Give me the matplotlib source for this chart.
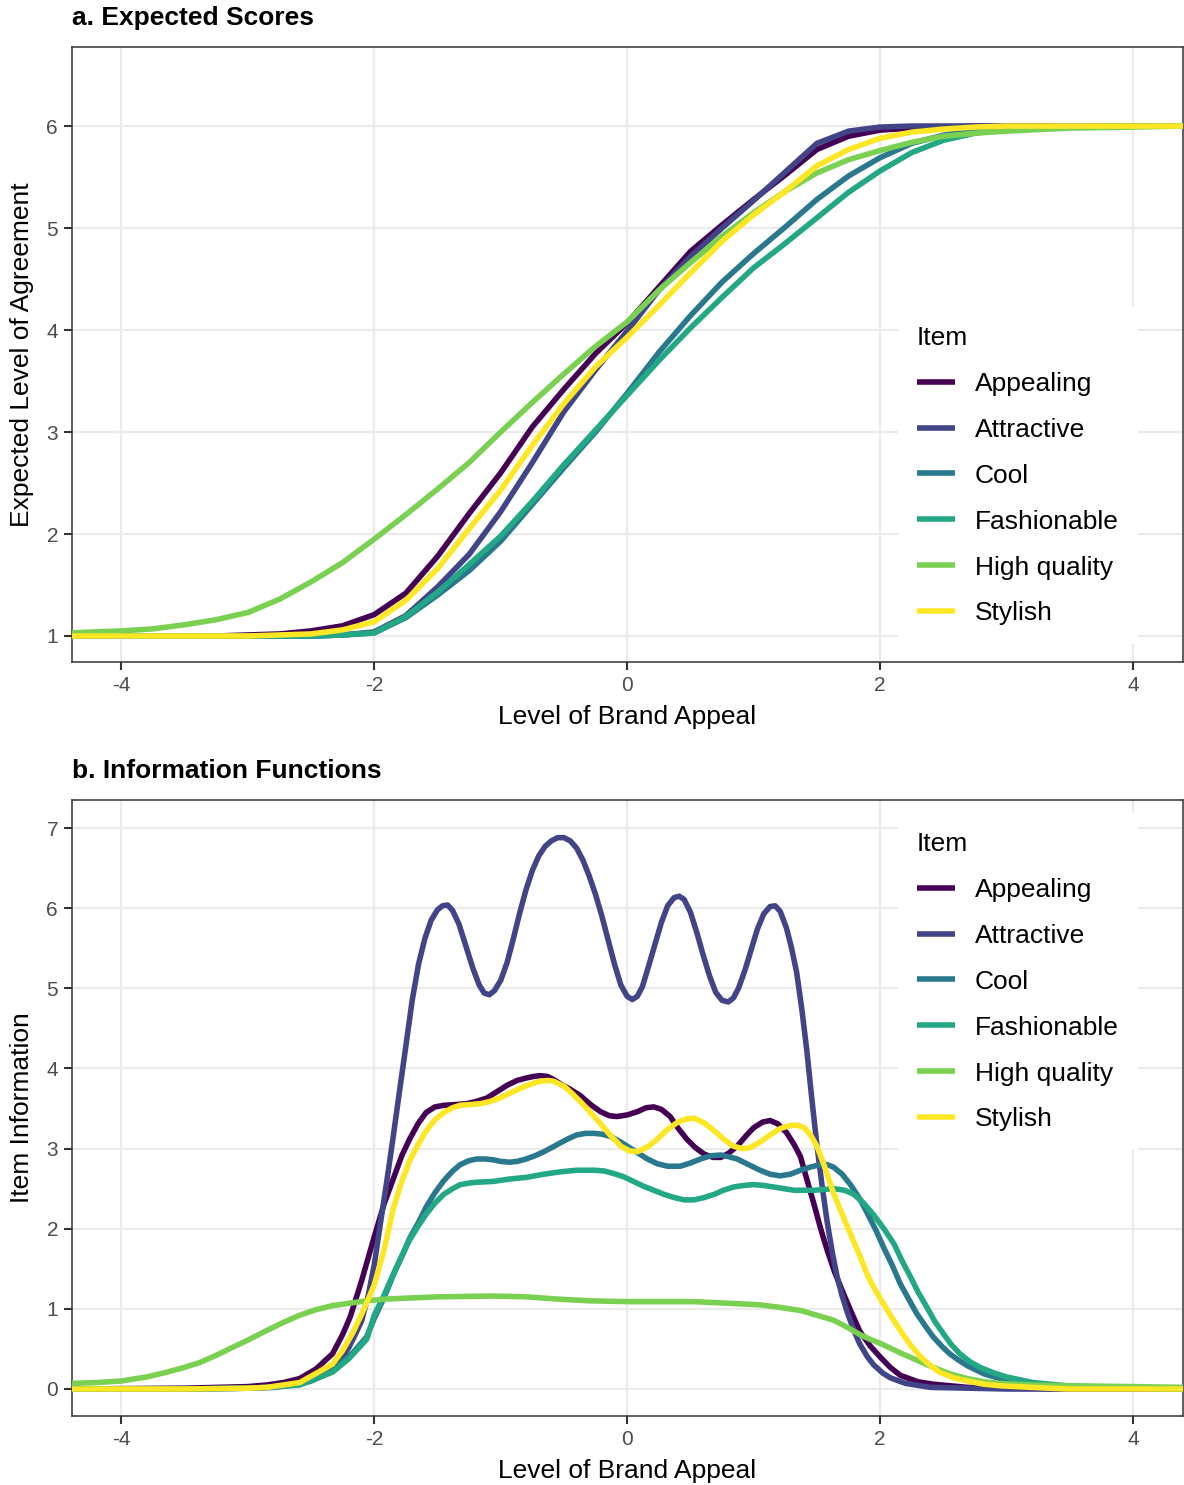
import matplotlib
matplotlib.use("Agg")
import matplotlib.pyplot as plt

plt.rcParams['font.family'] = ['Liberation Sans', 'DejaVu Sans']

# ---------------- data ----------------
items = ["Appealing", "Attractive", "Cool", "Fashionable", "High quality", "Stylish"]
colors = ["#440154", "#414487", "#2A788E", "#22A884", "#7AD151", "#FDE725"]

# Panel a: expected scores
theta_a = [-4.4, -4.0, -3.75, -3.5, -3.25, -3.0, -2.75, -2.5, -2.25, -2.0, -1.75, -1.5, -1.25, -1.0,
           -0.75, -0.5, -0.25, 0.0, 0.25, 0.5, 0.75, 1.0, 1.25, 1.5, 1.75, 2.0, 2.25, 2.5, 2.75,
           3.0, 3.5, 4.0, 4.4]
es_appealing = [1.0, 1.0, 1.0, 1.0, 1.0, 1.01, 1.02, 1.05, 1.10, 1.21, 1.42, 1.78, 2.20, 2.60,
                3.05, 3.42, 3.77, 4.07, 4.42, 4.77, 5.03, 5.28, 5.52, 5.77, 5.90, 5.96, 5.98, 5.99, 6.0,
                6.0, 6.0, 6.0, 6.0]
es_attractive = [1.0, 1.0, 1.0, 1.0, 1.0, 1.0, 1.0, 1.0, 1.01, 1.04, 1.20, 1.48, 1.80, 2.22,
                 2.70, 3.20, 3.61, 3.99, 4.39, 4.72, 5.0, 5.27, 5.55, 5.83, 5.95, 5.99, 6.0, 6.0, 6.0,
                 6.0, 6.0, 6.0, 6.0]
es_cool = [1.0, 1.0, 1.0, 1.0, 1.0, 1.0, 1.0, 1.0, 1.01, 1.03, 1.18, 1.40, 1.64, 1.93,
           2.29, 2.65, 3.0, 3.38, 3.78, 4.14, 4.47, 4.75, 5.01, 5.28, 5.51, 5.69, 5.83, 5.91, 5.96,
           5.98, 6.0, 6.0, 6.0]
es_fashionable = [1.0, 1.0, 1.0, 1.0, 1.0, 1.0, 1.0, 1.0, 1.01, 1.03, 1.19, 1.43, 1.70, 1.98,
                  2.32, 2.68, 3.02, 3.36, 3.70, 4.02, 4.32, 4.61, 4.85, 5.10, 5.35, 5.56, 5.74, 5.86, 5.93,
                  5.97, 5.99, 6.0, 6.0]
es_highquality = [1.03, 1.05, 1.07, 1.11, 1.16, 1.23, 1.36, 1.53, 1.72, 1.95, 2.19, 2.44, 2.70, 3.0,
                  3.29, 3.57, 3.84, 4.08, 4.39, 4.66, 4.92, 5.15, 5.36, 5.54, 5.67, 5.76, 5.84, 5.90, 5.93,
                  5.95, 5.98, 5.99, 6.0]
es_stylish = [1.0, 1.0, 1.0, 1.0, 1.0, 1.0, 1.01, 1.02, 1.06, 1.14, 1.35, 1.66, 2.05, 2.43,
              2.87, 3.28, 3.64, 3.93, 4.24, 4.56, 4.87, 5.13, 5.36, 5.61, 5.77, 5.88, 5.94, 5.97, 5.99,
              6.0, 6.0, 6.0, 6.0]

# Panel b: item information
th_appealing = [-4.4, -3.5, -3.0, -2.85, -2.72, -2.59, -2.46, -2.33, -2.25, -2.19, -2.1, -2.0, -1.92,
                -1.85, -1.78, -1.72, -1.65, -1.59, -1.52, -1.45, -1.35, -1.27, -1.19, -1.11, -1.03,
                -0.95, -0.87, -0.80, -0.74, -0.69, -0.63, -0.58, -0.52, -0.45, -0.37, -0.29, -0.21,
                -0.14, -0.08, 0.0, 0.08, 0.15, 0.21, 0.27, 0.34, 0.40, 0.47, 0.54, 0.61, 0.68, 0.74,
                0.80, 0.87, 0.94, 1.00, 1.07, 1.13, 1.19, 1.26, 1.32, 1.37, 1.42, 1.48, 1.53, 1.58,
                1.64, 1.71, 1.78, 1.84, 1.92, 2.0, 2.08, 2.16, 2.3, 2.42, 2.69, 3.0, 3.5, 4.4]
inf_appealing = [0.0, 0.01, 0.03, 0.05, 0.08, 0.13, 0.25, 0.44, 0.68, 0.90, 1.35, 1.90, 2.32,
                 2.62, 2.92, 3.12, 3.32, 3.45, 3.52, 3.54, 3.55, 3.56, 3.59, 3.63, 3.71,
                 3.79, 3.85, 3.88, 3.90, 3.91, 3.90, 3.86, 3.80, 3.74, 3.66, 3.55, 3.46,
                 3.41, 3.40, 3.42, 3.46, 3.51, 3.52, 3.49, 3.40, 3.26, 3.12, 3.01, 2.93, 2.89, 2.89,
                 2.94, 3.03, 3.16, 3.26, 3.33, 3.35, 3.31, 3.20, 3.05, 2.90, 2.62, 2.29, 2.00, 1.74,
                 1.46, 1.19, 0.93, 0.72, 0.54, 0.40, 0.27, 0.17, 0.09, 0.06, 0.02, 0.01, 0.0, 0.0]
th_attractive = [-4.4, -3.5, -3.0, -2.8, -2.6, -2.5, -2.4, -2.3, -2.25, -2.2, -2.15, -2.1, -2.05,
                 -2.0, -1.95, -1.9, -1.85, -1.8, -1.75, -1.7, -1.65, -1.6, -1.55, -1.5, -1.46, -1.42,
                 -1.38, -1.33, -1.28, -1.22, -1.17, -1.13, -1.09, -1.05, -1.0, -0.95, -0.9, -0.85,
                 -0.8, -0.75, -0.7, -0.65, -0.6, -0.55, -0.5, -0.45, -0.4, -0.35, -0.3, -0.25, -0.2,
                 -0.15, -0.1, -0.05, 0.0, 0.04, 0.08, 0.12, 0.17, 0.22, 0.27, 0.32, 0.37, 0.41, 0.45,
                 0.50, 0.55, 0.60, 0.65, 0.70, 0.75, 0.80, 0.84, 0.88, 0.93, 0.98, 1.03, 1.08, 1.13,
                 1.17, 1.21, 1.26, 1.30, 1.34, 1.38, 1.42, 1.46, 1.50, 1.54, 1.58, 1.62, 1.66, 1.70,
                 1.74, 1.79, 1.84, 1.90, 1.95, 2.02, 2.08, 2.2, 2.4, 2.7, 3.0, 3.5, 4.4]
inf_attractive = [0.0, 0.0, 0.01, 0.02, 0.06, 0.10, 0.17, 0.30, 0.40, 0.52, 0.68, 0.85, 1.15,
                  1.55, 2.08, 2.60, 3.15, 3.72, 4.28, 4.85, 5.30, 5.62, 5.85, 5.98, 6.03, 6.04,
                  5.97, 5.80, 5.55, 5.25, 5.04, 4.94, 4.92, 4.97, 5.10, 5.32, 5.62, 5.94,
                  6.23, 6.47, 6.65, 6.77, 6.84, 6.88, 6.88, 6.84, 6.75, 6.60, 6.40, 6.17, 5.90,
                  5.60, 5.30, 5.04, 4.90, 4.86, 4.90, 5.02, 5.28, 5.55, 5.82, 6.03, 6.13, 6.15, 6.11,
                  5.95, 5.70, 5.42, 5.16, 4.95, 4.85, 4.83, 4.88, 5.00, 5.22, 5.48, 5.74, 5.93, 6.02,
                  6.03, 5.96, 5.75, 5.50, 5.20, 4.75, 4.23, 3.62, 3.05, 2.55, 2.10, 1.72, 1.40, 1.16,
                  0.96, 0.74, 0.56, 0.40, 0.30, 0.20, 0.14, 0.07, 0.02, 0.01, 0.0, 0.0, 0.0]
th_cool = [-4.4, -3.5, -3.0, -2.85, -2.59, -2.33, -2.17, -2.06, -2.0, -1.92, -1.85, -1.78, -1.72,
           -1.65, -1.59, -1.52, -1.45, -1.38, -1.32, -1.25, -1.19, -1.12, -1.06, -1.0, -0.93, -0.87,
           -0.80, -0.73, -0.66, -0.60, -0.53, -0.47, -0.40, -0.33, -0.26, -0.20, -0.13, -0.06, 0.0,
           0.08, 0.16, 0.24, 0.32, 0.42, 0.50, 0.58, 0.66, 0.74, 0.80, 0.87, 0.96, 1.05, 1.13, 1.21,
           1.29, 1.37, 1.45, 1.53, 1.58, 1.63, 1.70, 1.77, 1.84, 1.90, 1.97, 2.03, 2.10, 2.16, 2.23,
           2.29, 2.36, 2.42, 2.49, 2.55, 2.62, 2.69, 2.82, 2.95, 3.08, 3.21, 3.48, 4.0, 4.4]
inf_cool = [0.0, 0.0, 0.01, 0.02, 0.06, 0.23, 0.45, 0.65, 0.88, 1.15, 1.42, 1.66, 1.88,
            2.08, 2.27, 2.45, 2.60, 2.72, 2.80, 2.85, 2.87, 2.87, 2.86, 2.84, 2.83, 2.84,
            2.87, 2.91, 2.96, 3.01, 3.07, 3.12, 3.17, 3.19, 3.19, 3.18, 3.15, 3.09, 3.03,
            2.95, 2.87, 2.81, 2.78, 2.78, 2.82, 2.87, 2.91, 2.92, 2.90, 2.87, 2.80, 2.73, 2.68, 2.66,
            2.68, 2.73, 2.77, 2.80, 2.80, 2.77, 2.68, 2.54, 2.37, 2.19, 1.97, 1.76, 1.53, 1.31, 1.11,
            0.94, 0.78, 0.65, 0.53, 0.44, 0.36, 0.29, 0.19, 0.13, 0.09, 0.06, 0.03, 0.01, 0.0]
th_fashionable = [-4.4, -3.5, -3.0, -2.85, -2.59, -2.33, -2.2, -2.06, -2.0, -1.92, -1.85, -1.78,
                  -1.72, -1.65, -1.59, -1.52, -1.45, -1.38, -1.32, -1.25, -1.19, -1.06, -0.93, -0.80,
                  -0.66, -0.53, -0.40, -0.26, -0.18, -0.11, -0.03, 0.05, 0.13, 0.21, 0.29, 0.37, 0.45,
                  0.53, 0.61, 0.69, 0.76, 0.84, 0.92, 1.00, 1.08, 1.16, 1.24, 1.32, 1.48, 1.63, 1.72,
                  1.79, 1.87, 1.95, 2.03, 2.11, 2.17, 2.24, 2.30, 2.37, 2.43, 2.50, 2.56, 2.63, 2.71,
                  2.79, 2.9, 3.0, 3.21, 3.48, 4.0, 4.4]
inf_fashionable = [0.0, 0.0, 0.01, 0.02, 0.05, 0.21, 0.38, 0.62, 0.92, 1.18, 1.43, 1.67,
                   1.86, 2.04, 2.18, 2.32, 2.43, 2.50, 2.55, 2.57, 2.58, 2.59, 2.62, 2.64,
                   2.68, 2.71, 2.73, 2.73, 2.72, 2.69, 2.65, 2.59, 2.53, 2.48, 2.43, 2.39, 2.36,
                   2.36, 2.39, 2.43, 2.48, 2.52, 2.54, 2.55, 2.54, 2.52, 2.50, 2.48, 2.48, 2.50, 2.48,
                   2.43, 2.32, 2.17, 2.00, 1.81, 1.61, 1.40, 1.21, 1.02, 0.85, 0.69, 0.56, 0.44, 0.34,
                   0.27, 0.20, 0.15, 0.08, 0.04, 0.01, 0.0]
th_highquality = [-4.4, -4.2, -4.0, -3.8, -3.64, -3.5, -3.38, -3.25, -3.12, -3.0, -2.85, -2.72,
                  -2.59, -2.46, -2.33, -2.2, -2.06, -1.93, -1.80, -1.5, -1.06, -0.80, -0.53, -0.29,
                  0.0, 0.53, 0.8, 1.05, 1.2, 1.37, 1.5, 1.63, 1.74, 1.84, 1.92, 2.0, 2.08, 2.16, 2.29,
                  2.42, 2.55, 2.69, 2.82, 2.95, 3.2, 3.48, 4.0, 4.4]
inf_highquality = [0.07, 0.08, 0.10, 0.15, 0.21, 0.27, 0.33, 0.42, 0.52, 0.61, 0.73, 0.83,
                   0.92, 0.99, 1.04, 1.07, 1.10, 1.12, 1.13, 1.15, 1.16, 1.15, 1.12, 1.10,
                   1.09, 1.09, 1.07, 1.05, 1.02, 0.98, 0.92, 0.86, 0.77, 0.68, 0.62, 0.57, 0.51, 0.45, 0.36,
                   0.27, 0.19, 0.13, 0.09, 0.07, 0.05, 0.04, 0.03, 0.02]
th_stylish = [-4.4, -3.5, -3.0, -2.85, -2.59, -2.33, -2.25, -2.17, -2.08, -2.0, -1.92, -1.85, -1.78,
              -1.72, -1.65, -1.59, -1.52, -1.45, -1.38, -1.32, -1.24, -1.16, -1.08, -1.01, -0.93,
              -0.85, -0.77, -0.69, -0.63, -0.58, -0.50, -0.43, -0.36, -0.29, -0.21, -0.13, -0.05,
              0.02, 0.08, 0.16, 0.24, 0.32, 0.40, 0.47, 0.53, 0.61, 0.69, 0.77, 0.84, 0.91, 0.97,
              1.05, 1.13, 1.21, 1.29, 1.35, 1.40, 1.45, 1.50, 1.56, 1.63, 1.70, 1.77, 1.84, 1.90,
              1.96, 2.02, 2.09, 2.16, 2.24, 2.32, 2.40, 2.47, 2.58, 2.69, 2.82, 2.95, 3.2, 3.48, 4.4]
inf_stylish = [0.0, 0.0, 0.01, 0.02, 0.08, 0.31, 0.48, 0.70, 1.0, 1.30, 1.75, 2.25, 2.60,
               2.85, 3.06, 3.22, 3.36, 3.45, 3.51, 3.54, 3.55, 3.56, 3.59, 3.63, 3.69,
               3.75, 3.80, 3.84, 3.85, 3.84, 3.78, 3.68, 3.57, 3.45, 3.31, 3.16, 3.03,
               2.97, 2.96, 3.02, 3.12, 3.24, 3.33, 3.37, 3.38, 3.32, 3.22, 3.11, 3.03, 3.00, 3.01,
               3.08, 3.17, 3.25, 3.29, 3.29, 3.26, 3.17, 3.03, 2.78, 2.45, 2.18, 1.92, 1.66, 1.42,
               1.24, 1.08, 0.90, 0.73, 0.55, 0.40, 0.29, 0.21, 0.14, 0.10, 0.06, 0.04, 0.02, 0.0, 0.0]

x_ticks = [-4, -2, 0, 2, 4]
y_ticks_a = [1, 2, 3, 4, 5, 6]
y_ticks_b = [0, 1, 2, 3, 4, 5, 6, 7]

es_series = [es_appealing, es_attractive, es_cool, es_fashionable, es_highquality, es_stylish]
info_series = [(th_appealing, inf_appealing), (th_attractive, inf_attractive), (th_cool, inf_cool),
               (th_fashionable, inf_fashionable), (th_highquality, inf_highquality),
               (th_stylish, inf_stylish)]

# ---------------- figure ----------------
W, H = 1184, 1485
fig = plt.figure(figsize=(W / 100, H / 100), dpi=100)

def px_axes(left, top, right, bottom):
    return fig.add_axes([left / W, 1 - bottom / H, (right - left) / W, (bottom - top) / H])

ax_a = px_axes(72, 47, 1183, 662)
ax_b = px_axes(72, 800, 1183, 1416)

LW = 4.0
for name, col, ys in zip(items, colors, es_series):
    ax_a.plot(theta_a, ys, color=col, lw=LW, label=name, solid_capstyle='butt',
              solid_joinstyle='round', zorder=3)
for name, col, (xs, ys) in zip(items, colors, info_series):
    ax_b.plot(xs, ys, color=col, lw=LW, label=name, solid_capstyle='butt',
              solid_joinstyle='round', zorder=3)

def style(ax, yticks, ylim, ylabel):
    ax.set_xlim(-4.39, 4.395)
    ax.set_ylim(*ylim)
    ax.set_xticks(x_ticks)
    ax.set_xticklabels([str(v) for v in x_ticks])
    ax.set_yticks(yticks)
    ax.set_yticklabels([str(v) for v in yticks])
    ax.grid(True, color="#EBEBEB", lw=1.6, zorder=0)
    ax.set_axisbelow(True)
    for s in ax.spines.values():
        s.set_color("#333333")
        s.set_linewidth(1.1)
    ax.tick_params(axis='both', colors="#333333", length=6, width=1.5,
                   labelsize=15, labelcolor="#4D4D4D", pad=4)
    ax.set_xlabel("Level of Brand Appeal", fontsize=19, color="black", labelpad=7)
    ax.set_ylabel(ylabel, fontsize=19, color="black", labelpad=9)
    leg = ax.legend(title="Item", loc="upper left", fontsize=19, title_fontsize=19,
                    frameon=True, framealpha=1, edgecolor="none", fancybox=False,
                    handlelength=1.45, handletextpad=0.75, labelspacing=0.83,
                    borderpad=0.72, borderaxespad=0, alignment="left")
    leg.get_frame().set_facecolor("white")
    for h in leg.legend_handles:
        h.set_linewidth(LW)
    return leg

leg_a = style(ax_a, y_ticks_a, (0.745, 6.775), "Expected Level of Agreement")
leg_a.set_bbox_to_anchor(((898 - 72) / 1111, 1 - (307 - 47) / 615), transform=ax_a.transAxes)
leg_b = style(ax_b, y_ticks_b, (-0.337, 7.35), "Item Information")
leg_b.set_bbox_to_anchor(((898 - 72) / 1111, 1 - (813 - 800) / 616), transform=ax_b.transAxes)

fig.text(72 / W, 1 - 18 / H, "a. Expected Scores", fontsize=19, fontweight="bold",
         ha="left", va="center")
fig.text(72 / W, 1 - 771 / H, "b. Information Functions", fontsize=19, fontweight="bold",
         ha="left", va="center")

fig.savefig("out.png", dpi=100)
